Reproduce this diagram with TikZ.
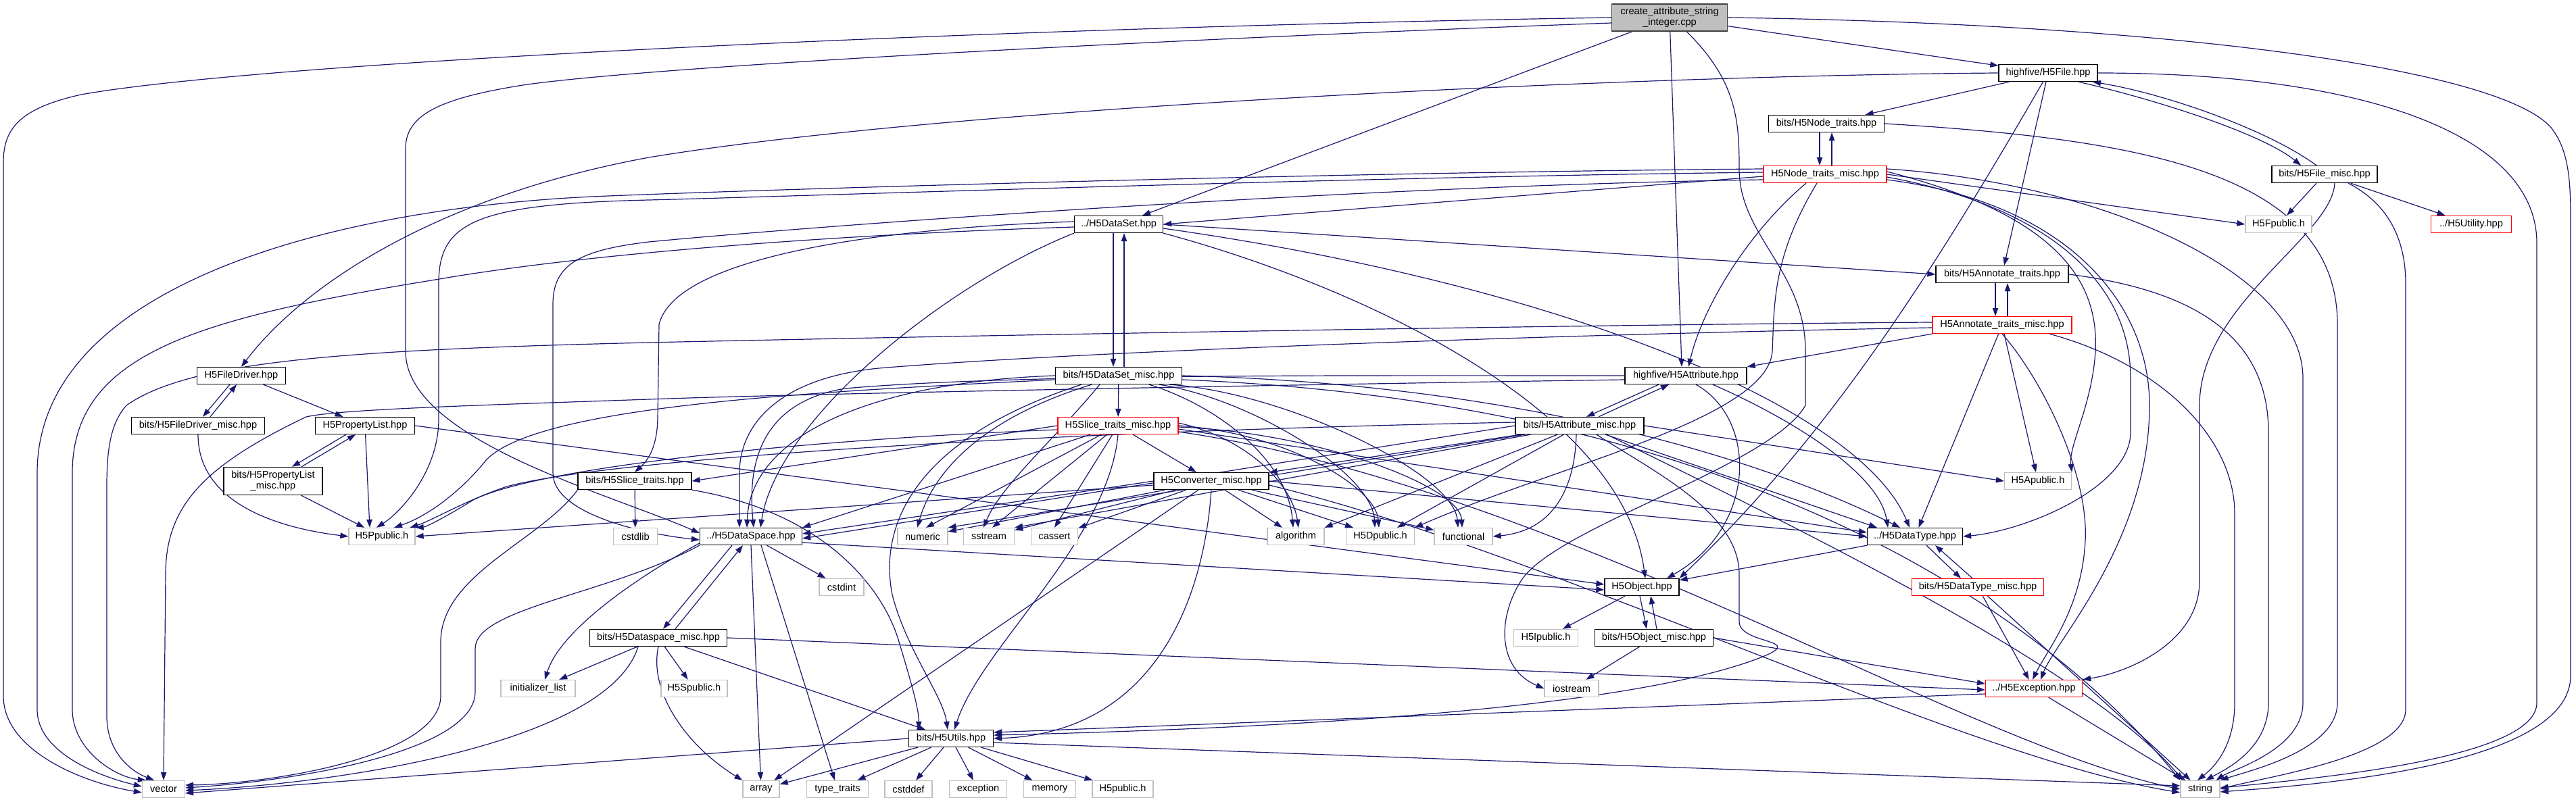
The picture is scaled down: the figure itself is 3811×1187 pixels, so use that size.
\documentclass[tikz,border=0pt]{standalone}
\usepackage{fontspec}
\setmainfont{Liberation Sans}
\usetikzlibrary{arrows.meta,calc}
\definecolor{ec}{HTML}{191970}
\definecolor{gb}{HTML}{BFBFBF}
\definecolor{cd}{HTML}{404040}
\pgfdeclarelayer{bg}
\pgfsetlayers{bg,main}
\newcommand\mknode[6]{\node[#1, minimum width=#2pt] (#3) at (#4,#5) {#6};}
\begin{document}
\begin{tikzpicture}[x=0.5pt,y=-0.5pt,
  nb/.style={draw=black, line width=0.65pt, fill=white, minimum height=12.5pt, inner sep=0pt, font=\fontsize{7.3}{8.2}\selectfont, text=black, align=center},
  sb/.style={nb, draw=gb},
  rb/.style={nb, draw=red},
  e/.style={draw=ec, line width=0.6pt, -{Triangle[length=6pt,width=4.2pt]}}]
\useasboundingbox (0,0) rectangle (3811,1187);
% nodes
\node[nb, minimum width=85.5pt, minimum height=20pt, fill=gb, draw=cd] (create) at (2470,26) {create\_attribute\_string\\\_integer.cpp};
\mknode{nb}{73}{hfile}{3030}{108}{highfive/H5File.hpp}
\mknode{nb}{85.5}{ntr}{2702}{183}{bits/H5Node\_traits.hpp}
\mknode{rb}{91}{ntrm}{2700}{258}{H5Node\_traits\_misc.hpp}
\mknode{nb}{78}{fmisc}{3439}{258}{bits/H5File\_misc.hpp}
\mknode{sb}{49}{fpub}{3371}{332}{H5Fpublic.h}
\mknode{rb}{59.5}{util}{3656}{332}{../H5Utility.hpp}
\mknode{nb}{65.5}{dset}{1655}{332}{../H5DataSet.hpp}
\mknode{nb}{98}{atr}{2962}{406}{bits/H5Annotate\_traits.hpp}
\mknode{rb}{103}{atrm}{2962}{481}{H5Annotate\_traits\_misc.hpp}
\mknode{nb}{65.5}{fdrv}{357}{556}{H5FileDriver.hpp}
\mknode{nb}{90}{attr}{2494}{556}{highfive/H5Attribute.hpp}
\mknode{nb}{93.5}{dsetm}{1655}{556}{bits/H5DataSet\_misc.hpp}
\mknode{nb}{98.5}{fdrvm}{293}{630}{bits/H5FileDriver\_misc.hpp}
\mknode{nb}{73.5}{plist}{540}{630}{H5PropertyList.hpp}
\mknode{rb}{89}{strm}{1654}{630}{H5Slice\_traits\_misc.hpp}
\mknode{nb}{95}{attrm}{2337}{630}{bits/H5Attribute\_misc.hpp}
\node[nb, minimum width=73pt, minimum height=20.5pt] (plistm) at (404,712) {bits/H5PropertyList\\\_misc.hpp};
\mknode{nb}{84}{str}{939}{712}{bits/H5Slice\_traits.hpp}
\mknode{nb}{85}{conv}{1792}{712}{H5Converter\_misc.hpp}
\mknode{sb}{49.5}{apub}{3015}{712}{H5Apublic.h}
\mknode{sb}{49}{ppub}{565}{794}{H5Ppublic.h}
\mknode{sb}{32.5}{cstdlib}{940}{794}{cstdlib}
\mknode{nb}{75.5}{dspace}{1111}{794}{../H5DataSpace.hpp}
\mknode{sb}{37}{numeric}{1365}{794}{numeric}
\mknode{sb}{37.5}{sstream}{1463}{794}{sstream}
\mknode{sb}{34.5}{cassert}{1560}{794}{cassert}
\mknode{sb}{42}{algo}{1917}{794}{algorithm}
\mknode{sb}{50.5}{dpub}{2042}{794}{H5Dpublic.h}
\mknode{sb}{43}{functional}{2165}{794}{functional}
\mknode{nb}{70.5}{dtype}{2833}{794}{../H5DataType.hpp}
\mknode{sb}{33}{cstdint}{1245}{869}{cstdint}
\mknode{nb}{55}{obj}{2429}{869}{H5Object.hpp}
\mknode{rb}{97.5}{dtypem}{2926}{869}{bits/H5DataType\_misc.hpp}
\mknode{nb}{101.5}{dspm}{974}{944}{bits/H5Dataspace\_misc.hpp}
\mknode{sb}{47.5}{ipub}{2287}{944}{H5Ipublic.h}
\mknode{nb}{87.5}{objm}{2447}{944}{bits/H5Object\_misc.hpp}
\mknode{sb}{55}{initl}{796}{1019}{initializer\_list}
\mknode{sb}{49}{spub}{1027}{1019}{H5Spublic.h}
\mknode{sb}{40}{iostream}{2325}{1019}{iostream}
\mknode{rb}{71.5}{exc}{3009}{1019}{../H5Exception.hpp}
\mknode{nb}{62.5}{utils}{1407}{1093}{bits/H5Utils.hpp}
\mknode{sb}{31.5}{vector}{242}{1168}{vector}
\mknode{sb}{27}{array}{1126}{1168}{array}
\mknode{sb}{45.5}{ttraits}{1239}{1168}{type\_traits}
\mknode{sb}{35}{cstddef}{1344}{1168}{cstddef}
\mknode{sb}{42.5}{exception}{1447}{1168}{exception}
\mknode{sb}{38.5}{memory}{1553}{1168}{memory}
\mknode{sb}{45}{hpub}{1661}{1168}{H5public.h}
\mknode{sb}{29}{string}{3255}{1168}{string}
\begin{pgfonlayer}{bg}
\fill[white] (0,0) rectangle (3811,1187);
% create
\draw[e] (create.west) .. controls (1500,40) and (400,90) .. (120,140) .. controls (30,160) and (5,190) .. (5,240) -- (5,1030) .. controls (5,1110) and (120,1158) .. ($(vector.west)+(0,5)$);
\draw[e] ($(create.west)+(0,8)$) .. controls (1800,55) and (1000,95) .. (780,125) .. controls (650,145) and (600,170) .. (600,220) -- (600,520) .. controls (600,650) and (900,730) .. ($(dspace.west)+(0,-5)$);
\draw[e] (create) -- (dset);
\draw[e] (create) -- ($(attr.north)+(-6,0)$);
\draw[e] ($(create.south)+(25,0)$) .. controls (2570,120) and (2573,180) .. (2573,250) .. controls (2573,350) and (2671,400) .. (2671,520) -- (2671,600) .. controls (2620,690) and (2300,780) .. (2250,860) .. controls (2215,915) and (2215,990) .. (iostream.west);
\draw[e] (create) -- (hfile);
\draw[e] (create.east) .. controls (3200,35) and (3700,100) .. (3775,190) .. controls (3798,220) and (3803,260) .. (3803,320) -- (3803,1000) .. controls (3803,1130) and (3450,1160) .. ($(string.east)+(0,4)$);
% H5File
\draw[e] (hfile.west) .. controls (2400,112) and (1400,160) .. (960,233) .. controls (650,290) and (450,420) .. (fdrv.north);
\draw[e] (hfile) -- (ntr);
\draw[e] (hfile) .. controls (2850,420) and (2700,650) .. (obj.north east);
\draw[e] (hfile) -- (atr);
\draw[e] ($(hfile.south)+(45,0)$) .. controls (3200,150) and (3350,200) .. ($(fmisc.north)+(-35,0)$);
\draw[e] ($(fmisc.north)+(-12,0)$) .. controls (3360,195) and (3210,140) .. ($(hfile.south)+(66,0)$);
\draw[e] (hfile.east) .. controls (3500,108) and (3753,200) .. (3753,360) -- (3753,1040) .. controls (3753,1120) and (3450,1150) .. ($(string.east)+(0,-2)$);
% Node traits
\draw[e] ($(ntr.south)+(-10,0)$) -- ($(ntrm.north)+(-8,0)$);
\draw[e] ($(ntrm.north)+(10,0)$) -- ($(ntr.south)+(8,0)$);
\draw[e] (ntr.east) .. controls (3150,205) and (3458,250) .. (3458,480) -- (3458,1040) .. controls (3458,1110) and (3330,1140) .. (string.north east);
\draw[e] ($(ntrm.west)+(0,-3)$) .. controls (2000,262) and (1200,290) .. (960,296) .. controls (700,302) and (649,330) .. (649,420) -- (649,620) .. controls (649,700) and (590,760) .. ($(ppub.north)+(-8,0)$);
\draw[e] ($(ntrm.west)+(0,-8)$) .. controls (2000,255) and (1200,278) .. (900,290) .. controls (500,305) and (55,420) .. (55,700) -- (55,1050) .. controls (55,1115) and (150,1150) .. ($(vector.west)+(0,-4)$);
\draw[e] ($(ntrm.west)+(0,3)$) -- (dset.east);
\draw[e] ($(ntrm.west)+(0,8)$) .. controls (2000,275) and (1200,335) .. (960,358) .. controls (860,370) and (818,390) .. (818,450) -- (818,700) .. controls (818,760) and (950,790) .. ($(dspace.west)+(0,5)$);
\draw[e] ($(ntrm.south)+(-28,0)$) .. controls (2590,340) and (2520,450) .. ($(attr.north)+(4,0)$);
\draw[e] ($(ntrm.south)+(-12,0)$) .. controls (2622,380) and (2625,450) .. (2622,520) .. controls (2615,620) and (2300,690) .. (dpub.north east);
\draw[e] (ntrm.east) -- (fpub.west);
\draw[e] ($(ntrm.east)+(0,-4)$) .. controls (3050,320) and (3105,420) .. (3100,520) .. controls (3095,600) and (3060,660) .. (apub.north east);
\draw[e] ($(ntrm.east)+(0,4)$) .. controls (3000,300) and (3152,400) .. (3152,560) -- (3152,640) .. controls (3152,720) and (3000,785) .. (dtype.east);
\draw[e] ($(ntrm.east)+(0,8)$) .. controls (3060,300) and (3180,450) .. (3180,600) .. controls (3180,800) and (3040,950) .. ($(exc.north)+(10,0)$);
\draw[e] ($(ntrm.east)+(0,-8)$) .. controls (3100,270) and (3407,400) .. (3407,560) -- (3407,1040) .. controls (3407,1110) and (3300,1140) .. ($(string.north east)+(-6,0)$);
% File misc
\draw[e] (fmisc) -- (fpub);
\draw[e] (fmisc) -- (util);
\draw[e] ($(fmisc.south)+(35,0)$) .. controls (3530,300) and (3559,350) .. (3559,420) -- (3559,1050) .. controls (3559,1120) and (3350,1150) .. (string.east);
\draw[e] ($(fmisc.south)+(15,0)$) .. controls (3450,350) and (3254,450) .. (3254,600) -- (3254,860) .. controls (3254,950) and (3150,995) .. (exc.north east);
% DataSet
\draw[e] ($(dset.west)+(0,4)$) .. controls (1300,345) and (900,370) .. (650,413) .. controls (300,470) and (107,520) .. (107,700) -- (107,1050) .. controls (107,1110) and (170,1150) .. ($(vector.north west)+(6,0)$);
\draw[e] (dset.south west) .. controls (1400,420) and (1150,620) .. ($(dspace.north)+(14,0)$);
\draw[e] (dset.south east) .. controls (2000,420) and (2400,600) .. ($(obj.north)+(5,0)$);
\draw[e] (dset.east) -- (atr.west);
\draw[e] ($(dset.west)+(0,-4)$) .. controls (1300,338) and (1000,380) .. (975,480) -- (973,620) .. controls (972,660) and (960,680) .. (str.north);
\draw[e] ($(dset.east)+(0,6)$) .. controls (2300,420) and (2750,600) .. ($(dtype.north)+(-8,0)$);
\draw[e] ($(dset.south)+(-8,0)$) -- ($(dsetm.north)+(-8,0)$);
\draw[e] ($(dsetm.north)+(8,0)$) -- ($(dset.south)+(8,0)$);
% Annotate traits
\draw[e] ($(atr.south)+(-10,0)$) -- ($(atrm.north)+(-10,0)$);
\draw[e] ($(atrm.north)+(8,0)$) -- ($(atr.south)+(8,0)$);
\draw[e] (atr.east) .. controls (3250,430) and (3356,500) .. (3356,640) -- (3356,1040) .. controls (3356,1110) and (3290,1140) .. ($(string.north)+(8,0)$);
\draw[e] ($(atrm.west)+(0,-4)$) .. controls (2400,480) and (1500,495) .. (960,507) .. controls (500,518) and (280,535) .. (187,600) .. controls (165,625) and (158,660) .. (158,720) -- (158,1060) .. controls (158,1110) and (190,1140) .. ($(vector.north)+(-14,0)$);
\draw[e] ($(atrm.west)+(0,4)$) .. controls (2300,495) and (1600,520) .. (1300,545) .. controls (1150,560) and (1094,630) .. (1094,700) .. controls (1094,740) and (1094,760) .. ($(dspace.north)+(-17,0)$);
\draw[e] (atrm.south west) -- (attr.north east);
\draw[e] (atrm) -- (dtype);
\draw[e] (atrm) -- (apub);
\draw[e] (atrm.south) .. controls (3020,560) and (3090,700) .. (3085,800) .. controls (3080,900) and (3030,960) .. ($(exc.north)+(-2,0)$);
\draw[e] ($(atrm.south)+(70,0)$) .. controls (3200,540) and (3306,650) .. (3306,760) -- (3306,1040) .. controls (3306,1110) and (3270,1140) .. ($(string.north)+(-4,0)$);
% FileDriver, PropertyList
\draw[e] ($(fdrv.south)+(-17,0)$) -- ($(fdrvm.north)+(7,0)$);
\draw[e] ($(fdrvm.north)+(18,0)$) -- ($(fdrv.south)+(-7,0)$);
\draw[e] (fdrv) -- (plist);
\draw[e] (fdrvm.south) .. controls (293,740) and (400,780) .. (ppub.west);
\draw[e] ($(plist.south)+(-28,0)$) -- ($(plistm.north)+(28,0)$);
\draw[e] ($(plistm.north)+(42,0)$) -- ($(plist.south)+(-14,0)$);
\draw[e] (plist) -- ($(ppub.north)+(-18,0)$);
\draw[e] (plist.east) -- ($(obj.west)+(0,-4)$);
\draw[e] (plistm) -- (ppub);
% Attribute
\draw[e] ($(attr.south)+(-40,0)$) -- ($(attrm.north)+(10,0)$);
\draw[e] ($(attrm.north)+(28,0)$) -- ($(attr.south)+(-25,0)$);
\draw[e] ($(attr.south)+(15,0)$) .. controls (2600,620) and (2600,780) .. ($(obj.north)+(37,0)$);
\draw[e] ($(attr.south)+(40,0)$) .. controls (2650,620) and (2780,700) .. ($(dtype.north)+(-40,0)$);
\draw[e] (attr.west) .. controls (2000,556) and (1500,553) .. (1250,575) .. controls (1130,595) and (1105,680) .. ($(dspace.north)+(4,0)$);
\draw[e] ($(attr.west)+(0,6)$) .. controls (2000,568) and (1200,582) .. (960,591) .. controls (700,600) and (500,606) .. (453,617) .. controls (300,690) and (245,750) .. (245,850) -- (vector.north);
% DataSet misc
\draw[e] (dsetm) -- (strm);
\draw[e] (dsetm.west) .. controls (1300,565) and (1110,640) .. ($(dspace.north)+(-6,0)$);
\draw[e] ($(dsetm.west)+(0,6)$) .. controls (1200,580) and (800,600) .. (720,680) .. controls (680,730) and (630,765) .. ($(ppub.north)+(18,0)$);
\draw[e] ($(dsetm.south)+(-40,0)$) .. controls (1450,620) and (1380,700) .. ($(numeric.north)+(-8,0)$);
\draw[e] ($(dsetm.south)+(-28,0)$) .. controls (1560,650) and (1480,720) .. ($(sstream.north)+(-8,0)$);
\draw[e] ($(dsetm.south)+(45,0)$) .. controls (1800,600) and (1905,680) .. ($(algo.north)+(-4,0)$);
\draw[e] ($(dsetm.south)+(60,0)$) .. controls (1850,590) and (2030,700) .. ($(dpub.north)+(-8,0)$);
\draw[e] ($(dsetm.south)+(75,0)$) .. controls (1900,580) and (2150,700) .. ($(functional.north)+(-8,0)$);
\draw[e] ($(dsetm.south)+(-55,0)$) .. controls (1350,650) and (1300,780) .. (1320,880) .. controls (1340,960) and (1395,1030) .. ($(utils.north)+(-5,0)$);
\draw[e] (dsetm.east) .. controls (2300,570) and (2650,700) .. ($(dtype.north)+(-22,0)$);
\draw[e] ($(dsetm.east)+(0,6)$) .. controls (2700,600) and (3100,1000) .. (string.north west);
% Slice traits misc
\draw[e] (strm.west) -- (str.east);
\draw[e] (strm) -- (conv);
\draw[e] (strm) -- (dspace.north east);
\draw[e] ($(strm.west)+(0,6)$) .. controls (1200,650) and (800,690) .. (700,740) .. controls (660,765) and (630,780) .. (ppub.north east);
\draw[e] (strm) -- ($(numeric.north)+(5,0)$);
\draw[e] (strm) -- ($(sstream.north)+(5,0)$);
\draw[e] (strm) -- (cassert.north);
\draw[e] ($(strm.east)+(0,-4)$) .. controls (1850,650) and (1912,720) .. ($(algo.north)+(4,0)$);
\draw[e] (strm.east) .. controls (1900,640) and (2035,720) .. ($(dpub.north)+(-2,0)$);
\draw[e] ($(strm.east)+(0,2)$) .. controls (1950,640) and (2160,720) .. ($(functional.north)+(-2,0)$);
\draw[e] ($(strm.east)+(0,5)$) -- ($(dtype.west)+(0,-6)$);
\draw[e] ($(strm.east)+(0,9)$) .. controls (2300,720) and (2900,1100) .. (string.west);
\draw[e] (strm.south) .. controls (1640,800) and (1450,960) .. ($(utils.north)+(5,0)$);
% Converter misc
\draw[e] (conv.west) -- ($(dspace.east)+(0,-4)$);
\draw[e] (conv) -- (numeric);
\draw[e] (conv) -- (sstream);
\draw[e] (conv) -- (cassert);
\draw[e] (conv) -- (algo);
\draw[e] (conv) -- (dpub);
\draw[e] (conv) -- (functional);
\draw[e] ($(conv.west)+(0,6)$) -- (ppub.east);
\draw[e] (conv) -- (array);
\draw[e] (conv.south) .. controls (1780,900) and (1700,1085) .. (utils.east);
\draw[e] (conv.east) -- (dtype.west);
\draw[e] ($(conv.east)+(0,6)$) .. controls (2300,820) and (2900,1120) .. ($(string.west)+(0,5)$);
% Attribute misc
\draw[e] (attrm) -- (conv);
\draw[e] (attrm.west) -- ($(dspace.east)+(0,3)$);
\draw[e] ($(attrm.west)+(0,-5)$) .. controls (1500,640) and (900,680) .. (750,720) .. controls (690,740) and (640,770) .. ($(ppub.north east)+(-8,0)$);
\draw[e] (attrm) -- (numeric.north east);
\draw[e] (attrm) -- (sstream.north east);
\draw[e] (attrm) -- (algo.north east);
\draw[e] (attrm) -- ($(dpub.north)+(25,0)$);
\draw[e] ($(attrm.south)+(-5,0)$) .. controls (2330,720) and (2300,785) .. (functional.east);
\draw[e] (attrm.east) -- (apub.west);
\draw[e] (attrm) -- ($(dtype.north west)+(15,0)$);
\draw[e] ($(attrm.south)+(40,0)$) .. controls (2700,800) and (3100,1000) .. ($(string.north west)+(4,0)$);
\draw[e] ($(attrm.south)+(25,0)$) .. controls (2450,700) and (2573,760) .. (2573,850) -- (2573,920) .. controls (2573,955) and (2680,945) .. (2600,975) .. controls (2400,1050) and (1900,1078) .. ($(utils.east)+(0,-5)$);
% Slice traits
\draw[e] (str) -- (cstdlib);
\draw[e] (str.south west) .. controls (800,800) and (652,850) .. (652,950) -- (652,1030) .. controls (652,1120) and (400,1160) .. ($(vector.east)+(0,-6)$);
\draw[e] (str.south east) .. controls (1230,760) and (1310,880) .. (1330,950) .. controls (1345,1000) and (1360,1050) .. ($(utils.north west)+(15,0)$);
% DataSpace
\draw[e] ($(dspace.east)+(0,9)$) -- ($(obj.west)+(0,4)$);
\draw[e] (dspace) -- (cstdint);
\draw[e] (dspace.south) -- (array);
\draw[e] ($(dspace.south)+(15,0)$) -- (ttraits);
\draw[e] ($(dspace.south)+(-28,0)$) -- ($(dspm.north)+(7,0)$);
\draw[e] ($(dspm.north)+(25,0)$) -- ($(dspace.south)+(-12,0)$);
\draw[e] (dspace.south west) .. controls (900,880) and (703,900) .. (703,960) -- (703,1024) .. controls (703,1110) and (450,1155) .. ($(vector.east)+(0,-2)$);
\draw[e] ($(dspace.west)+(0,10)$) .. controls (950,850) and (830,930) .. ($(initl.north)+(10,0)$);
% Dataspace misc
\draw[e] (dspm) -- (initl);
\draw[e] (dspm) -- (spub);
\draw[e] (dspm) -- (utils);
\draw[e] (dspm.south) .. controls (960,1020) and (1010,1100) .. (array.north west);
\draw[e] ($(dspm.south)+(-30,0)$) .. controls (900,1100) and (500,1160) .. ($(vector.east)+(0,2)$);
\draw[e] (dspm.east) -- ($(exc.west)+(0,2)$);
% DataType
\draw[e] (dtype) -- (obj);
\draw[e] ($(dtype.south)+(17,0)$) -- ($(dtypem.north)+(-25,0)$);
\draw[e] ($(dtypem.north)+(-8,0)$) -- ($(dtype.south)+(30,0)$);
\draw[e] (dtypem) -- (exc);
\draw[e] (dtypem) -- (string);
% Object
\draw[e] (obj) -- (ipub);
\draw[e] ($(obj.south)+(-3,0)$) -- ($(objm.north)+(-11,0)$);
\draw[e] ($(objm.north)+(4,0)$) -- ($(obj.south)+(13,0)$);
\draw[e] (objm) -- (iostream);
\draw[e] (objm.east) -- ($(exc.west)+(0,-7)$);
% Exception
\draw[e] ($(exc.west)+(0,8)$) -- ($(utils.east)+(0,-9)$);
\draw[e] (exc) -- (string);
% Utils
\draw[e] (utils.west) -- ($(vector.east)+(0,6)$);
\draw[e] (utils) -- (array);
\draw[e] (utils) -- (ttraits);
\draw[e] (utils) -- (cstddef);
\draw[e] (utils) -- (exception);
\draw[e] (utils) -- (memory);
\draw[e] (utils) -- (hpub);
\draw[e] ($(utils.east)+(0,6)$) -- ($(string.west)+(0,-5)$);
\end{pgfonlayer}
\end{tikzpicture}
\end{document}
